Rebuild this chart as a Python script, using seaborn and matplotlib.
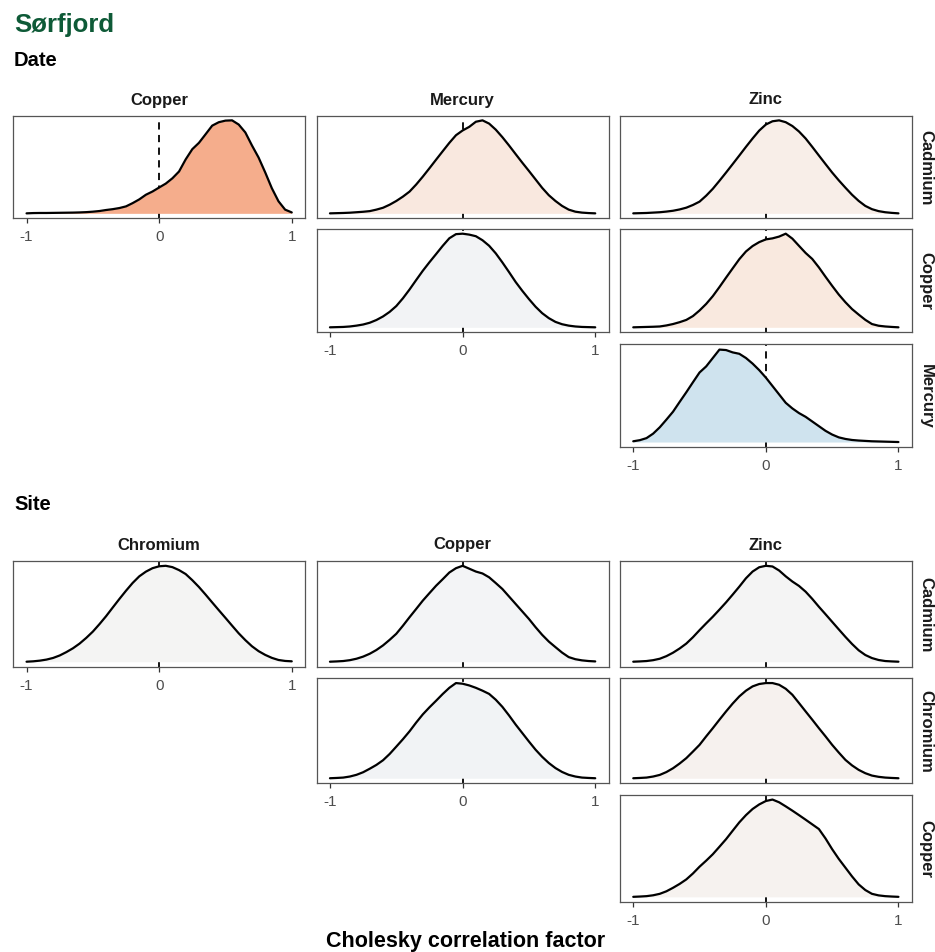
import matplotlib
matplotlib.use("Agg")
import matplotlib.pyplot as plt
import seaborn as sns
import pandas as pd

sns.set_theme(style="white")
plt.rcParams["font.family"] = ["Liberation Sans", "DejaVu Sans"]

# Evaluation grid shared by all posterior density curves (each curve scaled so its peak = 1)
grid = [-1.0, -0.95, -0.9, -0.85, -0.8, -0.75, -0.7, -0.65, -0.6, -0.55, -0.5,
        -0.45, -0.4, -0.35, -0.3, -0.25, -0.2, -0.15, -0.1, -0.05, 0.0,
        0.05, 0.1, 0.15, 0.2, 0.25, 0.3, 0.35, 0.4, 0.45, 0.5,
        0.55, 0.6, 0.65, 0.7, 0.75, 0.8, 0.85, 0.9, 0.95, 1.0]

# --- Date effect -----------------------------------------------------------
date_cols = ["Copper", "Mercury", "Zinc"]
date_rows = ["Cadmium", "Copper", "Mercury"]

date_copper_cadmium = [0.0, 0.003, 0.004, 0.004, 0.005, 0.006, 0.007, 0.008, 0.01, 0.013, 0.018,
                       0.025, 0.036, 0.045, 0.057, 0.075, 0.11, 0.15, 0.2, 0.235, 0.278,
                       0.32, 0.377, 0.45, 0.58, 0.69, 0.758, 0.85, 0.943, 0.98, 0.997,
                       1.0, 0.955, 0.87, 0.73, 0.6, 0.44, 0.27, 0.13, 0.04, 0.01]
date_mercury_cadmium = [0.0, 0.002, 0.004, 0.007, 0.012, 0.017, 0.024, 0.04, 0.06, 0.093, 0.133,
                        0.18, 0.234, 0.31, 0.395, 0.485, 0.577, 0.668, 0.758, 0.84, 0.891,
                        0.93, 0.985, 1.0, 0.965, 0.9, 0.819, 0.73, 0.637, 0.545, 0.456,
                        0.365, 0.274, 0.195, 0.133, 0.08, 0.04, 0.018, 0.008, 0.003, 0.0]
date_mercury_copper = [0.0, 0.002, 0.004, 0.009, 0.018, 0.03, 0.049, 0.078, 0.116, 0.165, 0.227,
                       0.31, 0.404, 0.505, 0.604, 0.695, 0.782, 0.87, 0.951, 0.995, 1.0,
                       0.99, 0.973, 0.93, 0.871, 0.79, 0.693, 0.59, 0.484, 0.39, 0.302,
                       0.22, 0.151, 0.098, 0.058, 0.033, 0.018, 0.009, 0.004, 0.002, 0.0]
date_zinc_cadmium = [0.0, 0.002, 0.004, 0.008, 0.012, 0.019, 0.028, 0.042, 0.061, 0.09, 0.126,
                     0.19, 0.264, 0.35, 0.439, 0.53, 0.622, 0.715, 0.805, 0.89, 0.955,
                     0.99, 1.0, 0.98, 0.939, 0.88, 0.805, 0.715, 0.622, 0.53, 0.439,
                     0.355, 0.276, 0.2, 0.134, 0.08, 0.045, 0.024, 0.012, 0.005, 0.0]
date_zinc_copper = [0.0, 0.002, 0.004, 0.006, 0.009, 0.02, 0.035, 0.055, 0.079, 0.12, 0.18,
                    0.25, 0.333, 0.43, 0.531, 0.63, 0.728, 0.81, 0.868, 0.91, 0.939,
                    0.95, 0.969, 1.0, 0.947, 0.87, 0.794, 0.73, 0.64, 0.54, 0.443,
                    0.35, 0.268, 0.195, 0.136, 0.08, 0.035, 0.017, 0.009, 0.004, 0.0]
date_zinc_mercury = [0.008, 0.02, 0.042, 0.09, 0.158, 0.24, 0.325, 0.43, 0.533, 0.64, 0.745,
                     0.81, 0.9, 0.99, 0.985, 0.96, 0.945, 0.9, 0.84, 0.77, 0.69,
                     0.6, 0.51, 0.42, 0.36, 0.31, 0.27, 0.22, 0.17, 0.12, 0.08,
                     0.05, 0.033, 0.022, 0.016, 0.012, 0.008, 0.006, 0.004, 0.002, 0.0]

# --- Site effect -----------------------------------------------------------
site_cols = ["Chromium", "Copper", "Zinc"]
site_rows = ["Cadmium", "Chromium", "Copper"]

site_chromium_cadmium = [0.0, 0.004, 0.011, 0.022, 0.039, 0.065, 0.1, 0.14, 0.189, 0.248, 0.314,
                         0.392, 0.475, 0.565, 0.654, 0.74, 0.821, 0.89, 0.939, 0.975, 0.995,
                         1.0, 0.986, 0.955, 0.914, 0.85, 0.779, 0.7, 0.618, 0.537, 0.457,
                         0.376, 0.296, 0.225, 0.161, 0.11, 0.071, 0.04, 0.018, 0.008, 0.004]
site_copper_cadmium = [0.0, 0.003, 0.007, 0.016, 0.031, 0.053, 0.083, 0.122, 0.17, 0.228, 0.291,
                       0.375, 0.464, 0.55, 0.637, 0.715, 0.792, 0.86, 0.93, 0.975, 1.0,
                       0.97, 0.94, 0.92, 0.88, 0.82, 0.758, 0.68, 0.602, 0.524, 0.446,
                       0.36, 0.28, 0.21, 0.152, 0.095, 0.048, 0.026, 0.014, 0.007, 0.003]
site_copper_chromium = [0.0, 0.003, 0.007, 0.018, 0.036, 0.063, 0.1, 0.14, 0.189, 0.255, 0.332,
                        0.41, 0.493, 0.585, 0.671, 0.745, 0.814, 0.885, 0.95, 1.0, 0.993,
                        0.975, 0.95, 0.92, 0.886, 0.825, 0.75, 0.66, 0.564, 0.475, 0.386,
                        0.3, 0.225, 0.16, 0.107, 0.066, 0.036, 0.018, 0.007, 0.003, 0.0]
site_zinc_cadmium = [0.0, 0.003, 0.007, 0.016, 0.031, 0.058, 0.094, 0.138, 0.189, 0.255, 0.329,
                     0.4, 0.469, 0.543, 0.619, 0.7, 0.783, 0.87, 0.94, 0.985, 1.0,
                     0.993, 0.951, 0.89, 0.836, 0.79, 0.73, 0.655, 0.573, 0.495, 0.416,
                     0.337, 0.259, 0.185, 0.119, 0.07, 0.038, 0.018, 0.007, 0.003, 0.0]
site_zinc_chromium = [0.0, 0.003, 0.007, 0.018, 0.035, 0.065, 0.105, 0.155, 0.211, 0.28, 0.351,
                      0.44, 0.526, 0.615, 0.702, 0.785, 0.86, 0.92, 0.965, 0.99, 1.0,
                      1.0, 0.982, 0.94, 0.877, 0.79, 0.702, 0.615, 0.526, 0.44, 0.351,
                      0.27, 0.193, 0.135, 0.088, 0.053, 0.028, 0.015, 0.007, 0.003, 0.0]
site_zinc_copper = [0.0, 0.003, 0.007, 0.016, 0.031, 0.057, 0.093, 0.133, 0.179, 0.24, 0.31,
                    0.372, 0.438, 0.515, 0.593, 0.68, 0.766, 0.84, 0.903, 0.95, 0.985,
                    1.0, 0.972, 0.93, 0.886, 0.84, 0.793, 0.745, 0.697, 0.6, 0.49,
                    0.39, 0.3, 0.21, 0.128, 0.07, 0.031, 0.015, 0.007, 0.003, 0.0]

date_curves = {("Copper", "Cadmium"): date_copper_cadmium,
               ("Mercury", "Cadmium"): date_mercury_cadmium,
               ("Mercury", "Copper"): date_mercury_copper,
               ("Zinc", "Cadmium"): date_zinc_cadmium,
               ("Zinc", "Copper"): date_zinc_copper,
               ("Zinc", "Mercury"): date_zinc_mercury}
site_curves = {("Chromium", "Cadmium"): site_chromium_cadmium,
               ("Copper", "Cadmium"): site_copper_cadmium,
               ("Copper", "Chromium"): site_copper_chromium,
               ("Zinc", "Cadmium"): site_zinc_cadmium,
               ("Zinc", "Chromium"): site_zinc_chromium,
               ("Zinc", "Copper"): site_zinc_copper}

# Fill colours (diverging scale on the posterior mean: blue negative, red positive)
date_fills = {("Copper", "Cadmium"): "#F5AD8C", ("Mercury", "Cadmium"): "#F9E8DF",
              ("Mercury", "Copper"): "#F2F3F5", ("Zinc", "Cadmium"): "#F8EEE8",
              ("Zinc", "Copper"): "#F9E9DF", ("Zinc", "Mercury"): "#CFE3EE"}
site_fills = {("Chromium", "Cadmium"): "#F4F4F3", ("Copper", "Cadmium"): "#F3F4F6",
              ("Copper", "Chromium"): "#F1F3F5", ("Zinc", "Cadmium"): "#F4F4F4",
              ("Zinc", "Chromium"): "#F6F1EE", ("Zinc", "Copper"): "#F6F2EF"}

W, H = 935, 953
fig = plt.figure(figsize=(W / 100, H / 100), dpi=100)
fig.patch.set_facecolor("white")


def rect(left, top, right, bottom):
    return [left / W, 1 - bottom / H, (right - left) / W, (bottom - top) / H]


col_px = [(13.3, 305.0), (316.7, 608.5), (620.0, 911.7)]
date_row_px = [(116.7, 219.0), (230.0, 333.0), (345.0, 447.7)]
site_row_px = [(562.0, 667.5), (679.3, 784.0), (795.7, 902.7)]

FRAME = "#555555"
TICKTXT = "#4D4D4D"


def draw_block(cols, rows, curves, fills, row_px, header_y):
    for ci, cname in enumerate(cols):
        for ri, rname in enumerate(rows):
            if ci < ri:
                continue
            key = (cname, rname)
            df = pd.DataFrame({"x": grid, "density": curves[key]})
            l, r = col_px[ci]
            t, b = row_px[ri]
            ax = fig.add_axes(rect(l, t, r, b))
            ax.axvline(0, color="black", lw=1.3, ls=(0, (4, 3)), zorder=1)
            ax.fill_between(df["x"], 0, df["density"], color=fills[key], lw=0, zorder=2)
            sns.lineplot(data=df, x="x", y="density", ax=ax, color="black",
                         lw=1.6, sort=True, zorder=3)
            ax.set_xlim(-1.1, 1.1)
            ax.set_ylim(-0.05, 1.05)
            ax.set_xlabel("")
            ax.set_ylabel("")
            ax.set_yticks([])
            for s in ax.spines.values():
                s.set_color(FRAME)
                s.set_linewidth(0.9)
                s.set_visible(True)
            if ri == ci:
                ax.set_xticks([-1, 0, 1])
                ax.set_xticklabels(["-1", "0", "1"])
                ax.tick_params(axis="x", bottom=True, direction="out", length=3.5,
                               width=0.9, color="#333333", labelsize=11,
                               labelcolor=TICKTXT, pad=4.5)
            else:
                ax.set_xticks([])
            if ri == 0:
                fig.text((l + r) / 2 / W, 1 - header_y / H, cname, ha="center",
                         va="center", fontsize=12, fontweight="bold", color="#1A1A1A")
            if ci == len(cols) - 1:
                fig.text(926 / W, 1 - (t + b) / 2 / H, rname, ha="center", va="center",
                         rotation=270, fontsize=12, fontweight="bold", color="#1A1A1A")


draw_block(date_cols, date_rows, date_curves, date_fills, date_row_px, 100)
draw_block(site_cols, site_rows, site_curves, site_fills, site_row_px, 545)

fig.text(14 / W, 1 - 25 / H, "Sørfjord", ha="left", va="center", fontsize=18.5,
         fontweight="bold", color="#0E5A37")
fig.text(14 / W, 1 - 60 / H, "Date", ha="left", va="center", fontsize=14.5,
         fontweight="bold", color="black")
fig.text(14 / W, 1 - 505 / H, "Site", ha="left", va="center", fontsize=14.5,
         fontweight="bold", color="black")
fig.text(466 / W, 1 - 942 / H, "Cholesky correlation factor", ha="center", va="center",
         fontsize=15.5, fontweight="bold", color="black")

fig.savefig("out.png", dpi=100, facecolor="white")
